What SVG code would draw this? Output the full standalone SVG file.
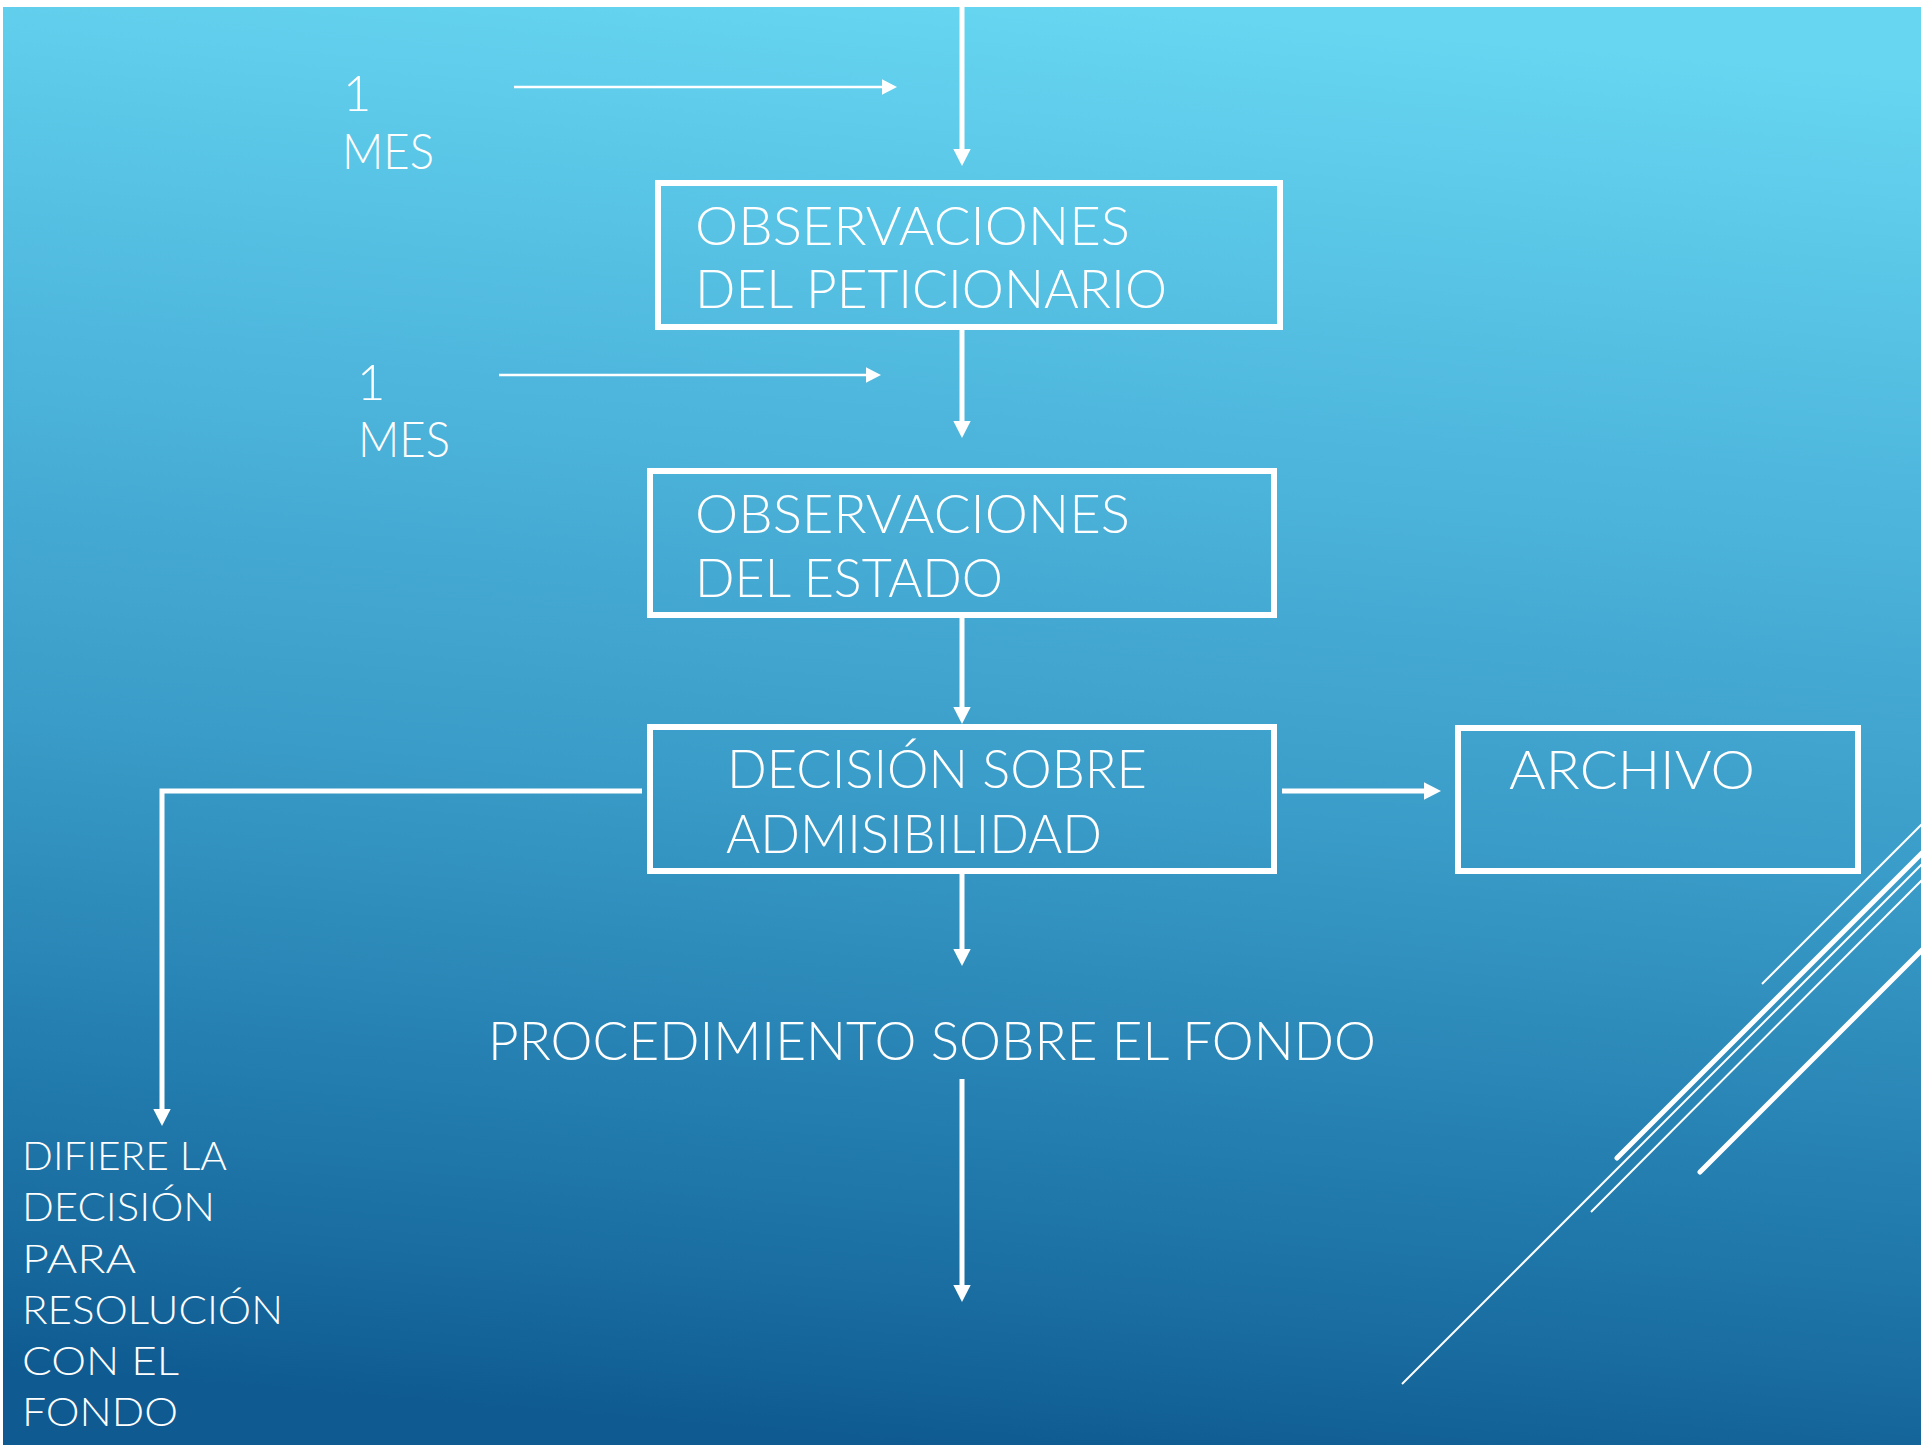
<svg xmlns="http://www.w3.org/2000/svg" width="1923" height="1445" viewBox="0 0 1923 1445">
<defs>
<linearGradient id="bg" gradientUnits="userSpaceOnUse" x1="1020" y1="0" x2="900" y2="1445">
<stop offset="0" stop-color="#66d6f1"/>
<stop offset="0.28" stop-color="#4fb7dd"/>
<stop offset="0.55" stop-color="#3a9cc8"/>
<stop offset="0.76" stop-color="#2580b1"/>
<stop offset="0.9" stop-color="#196ca0"/>
<stop offset="1" stop-color="#0e5a91"/>
</linearGradient>
<marker id="ah" markerUnits="userSpaceOnUse" markerWidth="18" markerHeight="18" refX="0" refY="8.7" orient="auto" overflow="visible">
<path d="M0,0 L17,8.7 L0,17.4 Z" fill="#fff"/>
</marker>
<marker id="ahs" markerUnits="userSpaceOnUse" markerWidth="16" markerHeight="16" refX="0" refY="7.8" orient="auto" overflow="visible">
<path d="M0,0 L15,7.8 L0,15.6 Z" fill="#fff"/>
</marker>
<style>
.box{fill:none;stroke:#fff;stroke-width:6}
.con{fill:none;stroke:#fff;stroke-width:5}
.thin{fill:none;stroke:#fff;stroke-width:2.3}
.deco{fill:none;stroke:#fff;stroke-width:2}
.decob{fill:none;stroke:#fff;stroke-width:5;stroke-linecap:round}
text{fill:#fff;font-family:Lato,"Liberation Sans","DejaVu Sans",sans-serif;font-weight:300}
.big{font-size:54px}
.mid{font-size:53px}
.mes{font-size:49px}
.sm{font-size:40px}
</style>
</defs>
<rect x="0" y="0" width="1923" height="1445" fill="#fff"/>
<rect x="3" y="7" width="1918" height="1438" fill="url(#bg)"/>

<g id="decoration">
<line class="deco" x1="1762" y1="984" x2="1923" y2="823"/>
<line class="decob" x1="1617" y1="1158" x2="1925" y2="850"/>
<line class="deco" x1="1402" y1="1384" x2="1923" y2="863"/>
<line class="deco" x1="1591" y1="1212" x2="1923" y2="879"/>
<line class="decob" x1="1700" y1="1172" x2="1925" y2="947"/>
</g>

<g id="connectors">
<line class="con" x1="962" y1="7" x2="962" y2="149" marker-end="url(#ah)"/>
<line class="con" x1="962" y1="330" x2="962" y2="421" marker-end="url(#ah)"/>
<line class="con" x1="962" y1="618" x2="962" y2="707" marker-end="url(#ah)"/>
<line class="con" x1="962" y1="874" x2="962" y2="949" marker-end="url(#ah)"/>
<line class="con" x1="962" y1="1079" x2="962" y2="1285" marker-end="url(#ah)"/>
<polyline class="con" points="642,791 162,791 162,1109" marker-end="url(#ah)"/>
<line class="con" x1="1282" y1="791" x2="1424" y2="791" marker-end="url(#ah)"/>
<line class="thin" x1="514" y1="87" x2="882" y2="87" marker-end="url(#ahs)"/>
<line class="thin" x1="499" y1="375" x2="866" y2="375" marker-end="url(#ahs)"/>
</g>

<g id="label-mes1">
<text class="mes" x="343" y="111">1</text>
<text class="mes" x="342" y="169" textLength="92" lengthAdjust="spacingAndGlyphs">MES</text>
</g>
<g id="label-mes2">
<text class="mes" x="357" y="400">1</text>
<text class="mes" x="358" y="457" textLength="92" lengthAdjust="spacingAndGlyphs">MES</text>
</g>

<g id="node-peticionario">
<rect class="box" x="658" y="183" width="622" height="144"/>
<text class="big" x="695" y="245" textLength="435" lengthAdjust="spacingAndGlyphs">OBSERVACIONES</text>
<text class="big" x="695" y="308" textLength="472" lengthAdjust="spacingAndGlyphs">DEL PETICIONARIO</text>
</g>

<g id="node-estado">
<rect class="box" x="650" y="471" width="624" height="144"/>
<text class="big" x="695" y="533" textLength="435" lengthAdjust="spacingAndGlyphs">OBSERVACIONES</text>
<text class="big" x="695" y="597" textLength="308" lengthAdjust="spacingAndGlyphs">DEL ESTADO</text>
</g>

<g id="node-decision">
<rect class="box" x="650" y="727" width="624" height="144"/>
<text class="big" x="727" y="788" textLength="420" lengthAdjust="spacingAndGlyphs">DECISIÓN SOBRE</text>
<text class="big" x="726" y="853" textLength="376" lengthAdjust="spacingAndGlyphs">ADMISIBILIDAD</text>
</g>

<g id="node-archivo">
<rect class="box" x="1458" y="728" width="400" height="143"/>
<text class="big" x="1509" y="789" textLength="246" lengthAdjust="spacingAndGlyphs">ARCHIVO</text>
</g>

<g id="node-procedimiento">
<text class="mid" x="488" y="1060" textLength="888" lengthAdjust="spacingAndGlyphs">PROCEDIMIENTO SOBRE EL FONDO</text>
</g>

<g id="node-difiere">
<text class="sm" x="22" y="1170" textLength="205" lengthAdjust="spacingAndGlyphs">DIFIERE LA</text>
<text class="sm" x="22" y="1221" textLength="193" lengthAdjust="spacingAndGlyphs">DECISIÓN</text>
<text class="sm" x="22" y="1273" textLength="114" lengthAdjust="spacingAndGlyphs">PARA</text>
<text class="sm" x="22" y="1324" textLength="261" lengthAdjust="spacingAndGlyphs">RESOLUCIÓN</text>
<text class="sm" x="22" y="1375" textLength="157" lengthAdjust="spacingAndGlyphs">CON EL</text>
<text class="sm" x="22" y="1426" textLength="156" lengthAdjust="spacingAndGlyphs">FONDO</text>
</g>
</svg>
